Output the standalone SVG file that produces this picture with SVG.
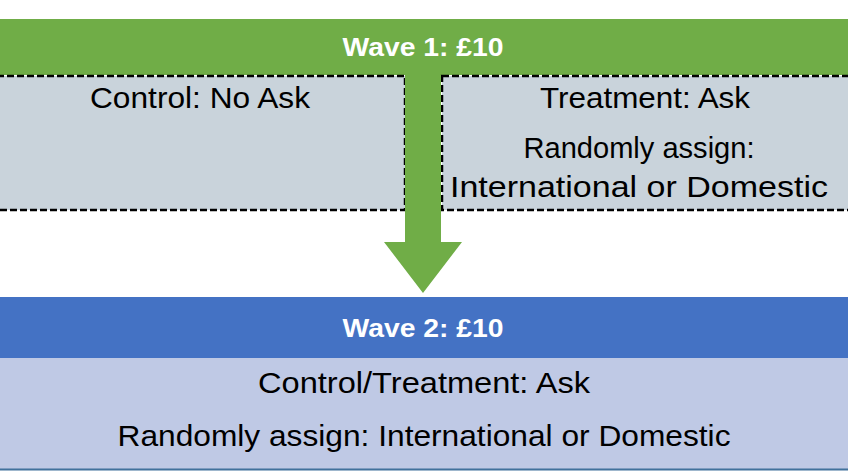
<svg xmlns="http://www.w3.org/2000/svg" width="848" height="475" viewBox="0 0 848 475">
<style>
.t{font-family:"Liberation Sans",Arial,sans-serif;font-size:29px;fill:#000;text-anchor:middle}
.h{font-family:"Liberation Sans",Arial,sans-serif;font-size:26px;font-weight:bold;fill:#fff;text-anchor:middle}
.dash{fill:#C9D3DB;stroke:#000;stroke-width:2.5;stroke-dasharray:7,3}
</style>
<rect width="848" height="475" fill="#fff"/>
<g id="wave1">
<rect x="0" y="19" width="848" height="56" fill="#70AD47"/>
<text class="h" x="423" y="56" textLength="161" lengthAdjust="spacingAndGlyphs">Wave 1: £10</text>
</g>
<g id="control">
<rect class="dash" x="-3" y="76" width="408" height="134"/>
<text class="t" x="200" y="108" textLength="220" lengthAdjust="spacingAndGlyphs">Control: No Ask</text>
</g>
<g id="treatment">
<rect class="dash" x="442" y="76" width="409" height="134"/>
<text class="t" x="645" y="108" textLength="210" lengthAdjust="spacingAndGlyphs">Treatment: Ask</text>
<text class="t" x="639" y="158" textLength="231" lengthAdjust="spacingAndGlyphs">Randomly assign:</text>
<text class="t" x="639" y="197" textLength="378" lengthAdjust="spacingAndGlyphs">International or Domestic</text>
</g>
<g id="connectors">
<polygon points="405,75 441,75 441,242 462,242 423,293 384,242 405,242" fill="#70AD47"/>
</g>
<g id="wave2">
<rect x="0" y="297" width="848" height="61" fill="#4472C4"/>
<text class="h" x="423" y="337" textLength="161" lengthAdjust="spacingAndGlyphs">Wave 2: £10</text>
<rect x="0" y="358" width="848" height="111" fill="#BFC9E5"/>
<line x1="0" y1="469.5" x2="848" y2="469.5" stroke="#41719C" stroke-width="2"/>
<text class="t" x="424" y="393" textLength="332" lengthAdjust="spacingAndGlyphs">Control/Treatment: Ask</text>
<text class="t" x="424" y="446" textLength="613" lengthAdjust="spacingAndGlyphs">Randomly assign: International or Domestic</text>
</g>
</svg>
